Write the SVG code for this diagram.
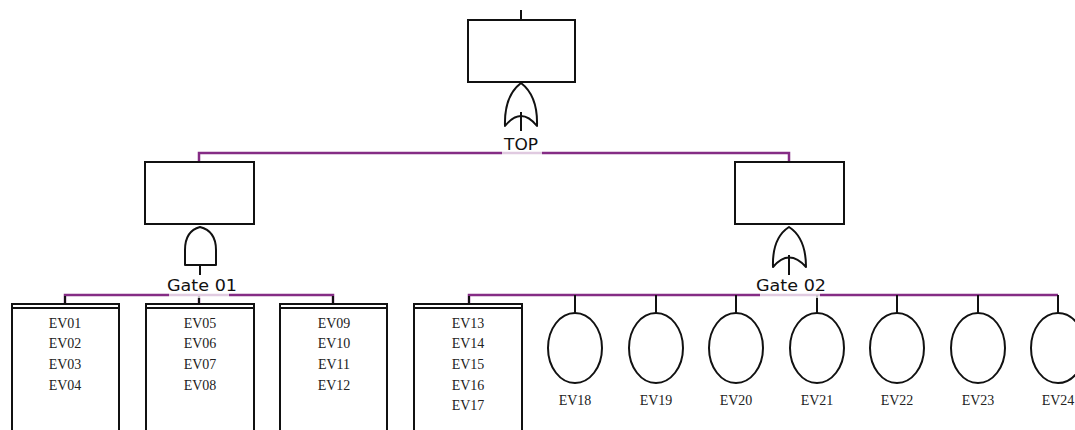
<svg xmlns="http://www.w3.org/2000/svg" width="1075" height="430" viewBox="0 0 1075 430">
<style>
.box{fill:#fff;stroke:#111;stroke-width:2}
.gate{fill:#fff;stroke:#111;stroke-width:2;stroke-linejoin:round}
.ln{stroke:#111;stroke-width:2;fill:none}
.bus{stroke:#852c85;stroke-width:2.5;fill:none}
.mask{fill:#fff;opacity:0.75}
.lbl{font-family:"DejaVu Sans",sans-serif;font-size:15px;fill:#111;text-anchor:middle}
.ev{font-family:"Liberation Serif",serif;font-size:14px;fill:#222;text-anchor:middle}
</style>
<rect width="1075" height="430" fill="#fff"/>
<g id="connectors">
<line class="ln" x1="521" y1="10" x2="521" y2="20"/>
<line class="ln" x1="521" y1="112" x2="521" y2="131"/>
<path class="bus" d="M199,162 V153 H789 V162"/>
<line class="ln" x1="200" y1="265" x2="200" y2="275"/>
<line class="ln" x1="789" y1="255" x2="789" y2="275"/>
<path class="bus" d="M65,304 V295 H333 V304"/>
<line class="bus" x1="199" y1="295" x2="199" y2="304"/>
<path class="bus" d="M469,304 V295 H1058"/>
<g class="ln">
<line x1="575" y1="295" x2="575" y2="313"/>
<line x1="656" y1="295" x2="656" y2="313"/>
<line x1="736" y1="295" x2="736" y2="313"/>
<line x1="817" y1="295" x2="817" y2="313"/>
<line x1="897" y1="295" x2="897" y2="313"/>
<line x1="978" y1="295" x2="978" y2="313"/>
<line x1="1058" y1="295" x2="1058" y2="313"/>
<line x1="65" y1="296" x2="65" y2="304"/>
<line x1="199" y1="296" x2="199" y2="304"/>
<line x1="333" y1="296" x2="333" y2="304"/>
<line x1="469" y1="296" x2="469" y2="304"/>
</g>
</g>
<g id="top">
<rect class="box" x="468" y="20" width="107" height="62"/>
<path class="gate" d="M505,126 Q504,96 521,83 Q538,96 537,126 Q521,106 505,126 Z"/>
<line class="ln" x1="521" y1="112" x2="521" y2="131"/>
<rect class="mask" x="502" y="150" width="40" height="6"/>
<text class="lbl" x="521" y="150" textLength="34" lengthAdjust="spacingAndGlyphs">TOP</text>
</g>
<g id="gate01">
<rect class="box" x="145" y="162" width="109" height="62"/>
<path class="gate" d="M185,265 V250 Q185,231 200,227 Q216,231 216,250 V265 Z"/>
<rect class="mask" x="169" y="292" width="60" height="6"/>
<text class="lbl" x="202" y="291" textLength="70" lengthAdjust="spacingAndGlyphs">Gate 01</text>
</g>
<g id="gate02">
<rect class="box" x="735" y="162" width="109" height="62"/>
<path class="gate" d="M773,267 Q772,238 789,227 Q806,238 806,267 Q789,248 773,267 Z"/>
<line class="ln" x1="789" y1="255" x2="789" y2="275"/>
<rect class="mask" x="760" y="292" width="60" height="6"/>
<text class="lbl" x="791" y="291" textLength="70" lengthAdjust="spacingAndGlyphs">Gate 02</text>
</g>
<g id="group1">
<rect class="box" x="12" y="304" width="107" height="140"/>
<line class="ln" x1="12" y1="308" x2="119" y2="308"/>
<text class="ev" x="65" y="328">EV01</text>
<text class="ev" x="65" y="348">EV02</text>
<text class="ev" x="65" y="369">EV03</text>
<text class="ev" x="65" y="390">EV04</text>
</g>
<g id="group2">
<rect class="box" x="146" y="304" width="108" height="140"/>
<line class="ln" x1="146" y1="308" x2="254" y2="308"/>
<text class="ev" x="200" y="328">EV05</text>
<text class="ev" x="200" y="348">EV06</text>
<text class="ev" x="200" y="369">EV07</text>
<text class="ev" x="200" y="390">EV08</text>
</g>
<g id="group3">
<rect class="box" x="280" y="304" width="107" height="140"/>
<line class="ln" x1="280" y1="308" x2="387" y2="308"/>
<text class="ev" x="334" y="328">EV09</text>
<text class="ev" x="334" y="348">EV10</text>
<text class="ev" x="334" y="369">EV11</text>
<text class="ev" x="334" y="390">EV12</text>
</g>
<g id="group4">
<rect class="box" x="414" y="304" width="108" height="140"/>
<line class="ln" x1="414" y1="308" x2="522" y2="308"/>
<text class="ev" x="468" y="328">EV13</text>
<text class="ev" x="468" y="348">EV14</text>
<text class="ev" x="468" y="369">EV15</text>
<text class="ev" x="468" y="390">EV16</text>
<text class="ev" x="468" y="410">EV17</text>
</g>
<g id="ev18"><ellipse class="box" cx="575" cy="348" rx="27" ry="35"/><text class="ev" x="575" y="405">EV18</text></g>
<g id="ev19"><ellipse class="box" cx="656" cy="348" rx="27" ry="35"/><text class="ev" x="656" y="405">EV19</text></g>
<g id="ev20"><ellipse class="box" cx="736" cy="348" rx="27" ry="35"/><text class="ev" x="736" y="405">EV20</text></g>
<g id="ev21"><ellipse class="box" cx="817" cy="348" rx="27" ry="35"/><text class="ev" x="817" y="405">EV21</text></g>
<g id="ev22"><ellipse class="box" cx="897" cy="348" rx="27" ry="35"/><text class="ev" x="897" y="405">EV22</text></g>
<g id="ev23"><ellipse class="box" cx="978" cy="348" rx="27" ry="35"/><text class="ev" x="978" y="405">EV23</text></g>
<g id="ev24"><ellipse class="box" cx="1058" cy="348" rx="27" ry="35"/><text class="ev" x="1058" y="405">EV24</text></g>
</svg>
